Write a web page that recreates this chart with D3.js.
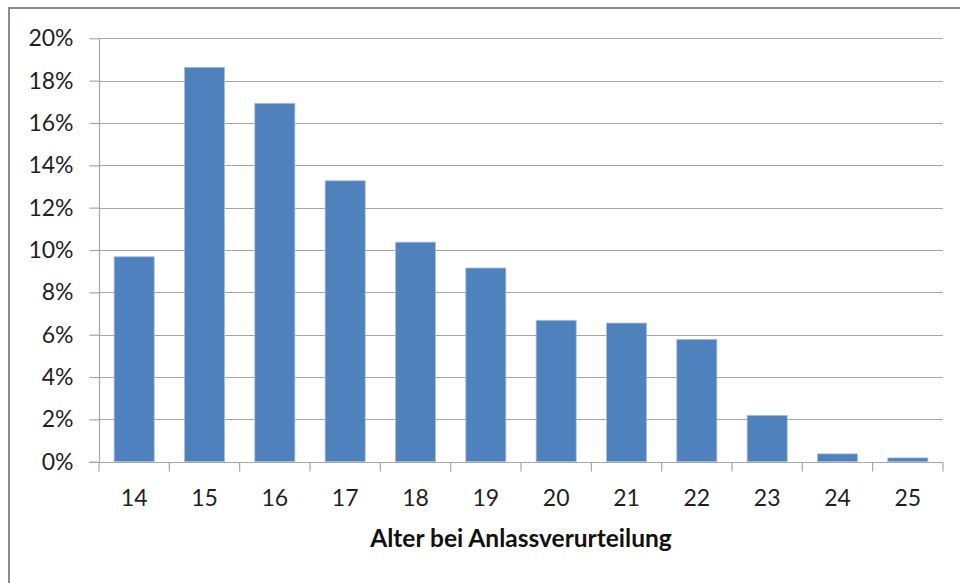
<!DOCTYPE html>
<html>
<head>
<meta charset="utf-8">
<script src="https://cdnjs.cloudflare.com/ajax/libs/d3/7.8.5/d3.min.js"></script>
<style>
  html, body { margin: 0; padding: 0; background: #fff; }
  svg { display: block; }
</style>
</head>
<body>
<svg id="chart" width="960" height="583"></svg>
<script>
const categories = ["14", "15", "16", "17", "18", "19", "20", "21", "22", "23", "24", "25"];
const values = [9.68, 18.63, 16.93, 13.27, 10.37, 9.15, 6.68, 6.55, 5.78, 2.19, 0.37, 0.18];
const yTicks = [0, 2, 4, 6, 8, 10, 12, 14, 16, 18, 20];
const xTitle = "Alter bei Anlassverurteilung";

(function () {
const svg = d3.select("#chart");
const pLeft = 99, pRight = 943, pTop = 38.3, pBottom = 461.7;
const font = "Lato, 'Open Sans', sans-serif";

// outer frame
svg.append("path")
  .attr("d", "M9,590 L9,8 L970,8")
  .attr("fill", "none").attr("stroke", "#8c8c8c").attr("stroke-width", 2);

const x = d3.scaleBand().domain(categories).range([pLeft, pRight]).paddingInner(0.43).paddingOuter(0.215);
const y = d3.scaleLinear().domain([0, 20]).range([pBottom, pTop]);

// gridlines
svg.append("g").selectAll("line").data(yTicks.filter(d => d > 0)).join("line")
  .attr("x1", pLeft).attr("x2", pRight)
  .attr("y1", d => Math.round(y(d)) + 0.5).attr("y2", d => Math.round(y(d)) + 0.5)
  .attr("stroke", "#a6a6a6").attr("stroke-width", 1.2);

// y axis
const yAxis = d3.axisLeft(y).tickValues(yTicks).tickSize(10).tickPadding(16)
  .tickFormat(d => d + "%");
const gy = svg.append("g").attr("transform", `translate(${pLeft + 0.5},0)`).call(yAxis);
gy.select(".domain").attr("stroke", "#a6a6a6").attr("stroke-width", 1.2).attr("d", `M0,${pTop}V${pBottom}`);
gy.selectAll(".tick line").attr("stroke", "#a6a6a6").attr("stroke-width", 1.2);
gy.selectAll(".tick text").attr("font-family", font).attr("font-size", 23).attr("fill", "#1f1f1f");

// bars
svg.append("g").selectAll("rect").data(values).join("rect")
  .attr("x", (d, i) => x(categories[i]))
  .attr("width", x.bandwidth())
  .attr("y", d => y(d))
  .attr("height", d => y(0) - y(d))
  .attr("fill", "#4f81bd")
  .attr("stroke", "#a9c1e0").attr("stroke-width", 0.8);

// x axis
const xb = d3.scaleLinear().domain([0, categories.length]).range([pLeft, pRight]);
const gx = svg.append("g").attr("transform", `translate(0,${Math.round(pBottom) + 0.5})`);
gx.append("line").attr("x1", pLeft - 10).attr("x2", pRight).attr("stroke", "#a6a6a6").attr("stroke-width", 1.2);
gx.selectAll("line.tk").data(d3.range(categories.length + 1)).join("line").attr("class", "tk")
  .attr("x1", d => xb(d)).attr("x2", d => xb(d)).attr("y1", 0).attr("y2", 9)
  .attr("stroke", "#a6a6a6").attr("stroke-width", 1.2);
gx.selectAll("text").data(categories).join("text")
  .attr("x", d => x(d) + x.bandwidth() / 2)
  .attr("y", 43)
  .attr("text-anchor", "middle")
  .attr("font-family", font).attr("font-size", 23).attr("fill", "#1f1f1f")
  .text(d => d);

// x title
svg.append("text")
  .attr("x", (pLeft + pRight) / 2).attr("y", 547)
  .attr("text-anchor", "middle")
  .attr("font-family", font).attr("font-size", 24.5).attr("font-weight", "bold").attr("fill", "#111")
  .text(xTitle);
})();
</script>
</body>
</html>
